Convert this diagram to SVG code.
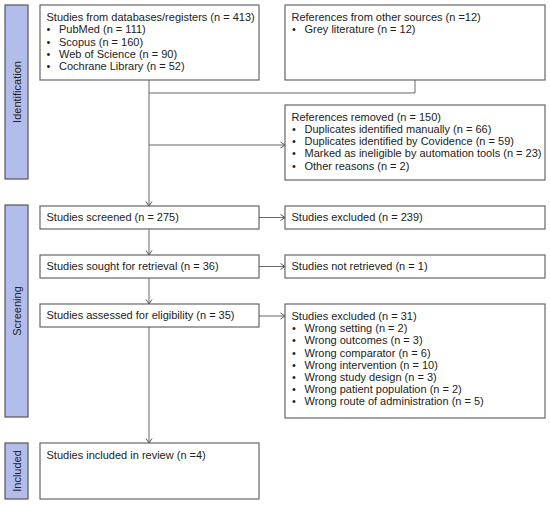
<svg xmlns="http://www.w3.org/2000/svg" width="550" height="505" viewBox="0 0 550 505">
<defs>
<marker id="arr" markerWidth="8" markerHeight="8" refX="6" refY="4" orient="auto" markerUnits="userSpaceOnUse">
<path d="M1.5,1 L6,4 L1.5,7" fill="none" stroke="#555" stroke-width="1"/>
</marker>
<style>
.box{fill:#fff;stroke:#666;stroke-width:1.2}
.bar{fill:#b3bdec;stroke:#555;stroke-width:1.2}
.t{font-family:"Liberation Sans",Arial,sans-serif;font-size:11px;fill:#222}
.lbl{font-family:"Liberation Sans",Arial,sans-serif;font-size:11px;fill:#222;text-anchor:middle}
.ln{fill:none;stroke:#666;stroke-width:1}
</style>
</defs>
<rect width="550" height="505" fill="#fff"/>

<g id="phase-identification">
<rect class="bar" x="5" y="5" width="23" height="174"/>
<text class="lbl" transform="translate(20.5,92) rotate(-90)">Identification</text>
</g>
<g id="phase-screening">
<rect class="bar" x="5" y="205" width="23" height="212"/>
<text class="lbl" transform="translate(20.5,311) rotate(-90)">Screening</text>
</g>
<g id="phase-included">
<rect class="bar" x="5" y="443" width="23" height="56"/>
<text class="lbl" transform="translate(20.5,471) rotate(-90)">Included</text>
</g>

<g id="connectors">
<path class="ln" d="M149,80 V206" marker-end="url(#arr)"/>
<path class="ln" d="M415,80 V93 H149"/>
<path class="ln" d="M149,145 H285" marker-end="url(#arr)"/>
<path class="ln" d="M259,217.5 H285" marker-end="url(#arr)"/>
<path class="ln" d="M149,229 V255" marker-end="url(#arr)"/>
<path class="ln" d="M259,266.5 H285" marker-end="url(#arr)"/>
<path class="ln" d="M149,278 V304" marker-end="url(#arr)"/>
<path class="ln" d="M259,316 H285" marker-end="url(#arr)"/>
<path class="ln" d="M149,327 V443" marker-end="url(#arr)"/>
</g>

<g id="databases">
<rect class="box" x="40" y="5" width="219" height="75"/>
<text class="t" x="46.5" y="21">Studies from databases/registers (n = 413)</text>
<text class="t" x="46.5" y="33.3">•</text><text class="t" x="59" y="33.3">PubMed (n = 111)</text>
<text class="t" x="46.5" y="45.6">•</text><text class="t" x="59" y="45.6">Scopus (n = 160)</text>
<text class="t" x="46.5" y="57.9">•</text><text class="t" x="59" y="57.9">Web of Science (n = 90)</text>
<text class="t" x="46.5" y="70.2">•</text><text class="t" x="59" y="70.2">Cochrane Library (n = 52)</text>
</g>

<g id="other-sources">
<rect class="box" x="285" y="5" width="260" height="75"/>
<text class="t" x="291.5" y="21">References from other sources (n =12)</text>
<text class="t" x="292" y="33.3">•</text><text class="t" x="304.5" y="33.3">Grey literature (n = 12)</text>
</g>

<g id="removed">
<rect class="box" x="285" y="105" width="260" height="75"/>
<text class="t" x="291.5" y="120.7">References removed (n = 150)</text>
<text class="t" x="292" y="132.9">•</text><text class="t" x="304.5" y="132.9">Duplicates identified manually (n = 66)</text>
<text class="t" x="292" y="145.1">•</text><text class="t" x="304.5" y="145.1">Duplicates identified by Covidence (n = 59)</text>
<text class="t" x="292" y="157.3">•</text><text class="t" x="304.5" y="157.3">Marked as ineligible by automation tools (n = 23)</text>
<text class="t" x="292" y="169.5">•</text><text class="t" x="304.5" y="169.5">Other reasons (n = 2)</text>
</g>

<g id="screened">
<rect class="box" x="40" y="206" width="219" height="23"/>
<text class="t" x="46.5" y="221">Studies screened (n = 275)</text>
</g>
<g id="excluded-screen">
<rect class="box" x="285" y="206" width="260" height="23"/>
<text class="t" x="291.5" y="221">Studies excluded (n = 239)</text>
</g>

<g id="sought">
<rect class="box" x="40" y="255" width="219" height="23"/>
<text class="t" x="46.5" y="270">Studies sought for retrieval (n = 36)</text>
</g>
<g id="not-retrieved">
<rect class="box" x="285" y="255" width="260" height="23"/>
<text class="t" x="291.5" y="270">Studies not retrieved (n = 1)</text>
</g>

<g id="assessed">
<rect class="box" x="40" y="304" width="219" height="23"/>
<text class="t" x="46.5" y="319">Studies assessed for eligibility (n = 35)</text>
</g>
<g id="excluded-eligibility">
<rect class="box" x="285" y="304" width="260" height="114"/>
<text class="t" x="291.5" y="320">Studies excluded (n = 31)</text>
<text class="t" x="292" y="332.2">•</text><text class="t" x="304.5" y="332.2">Wrong setting (n = 2)</text>
<text class="t" x="292" y="344.4">•</text><text class="t" x="304.5" y="344.4">Wrong outcomes (n = 3)</text>
<text class="t" x="292" y="356.6">•</text><text class="t" x="304.5" y="356.6">Wrong comparator (n = 6)</text>
<text class="t" x="292" y="368.8">•</text><text class="t" x="304.5" y="368.8">Wrong intervention (n = 10)</text>
<text class="t" x="292" y="381">•</text><text class="t" x="304.5" y="381">Wrong study design (n = 3)</text>
<text class="t" x="292" y="393.2">•</text><text class="t" x="304.5" y="393.2">Wrong patient population (n = 2)</text>
<text class="t" x="292" y="405.4">•</text><text class="t" x="304.5" y="405.4">Wrong route of administration (n = 5)</text>
</g>

<g id="included">
<rect class="box" x="40" y="443" width="219" height="56"/>
<text class="t" x="46.5" y="458.5">Studies included in review (n =4)</text>
</g>
</svg>
